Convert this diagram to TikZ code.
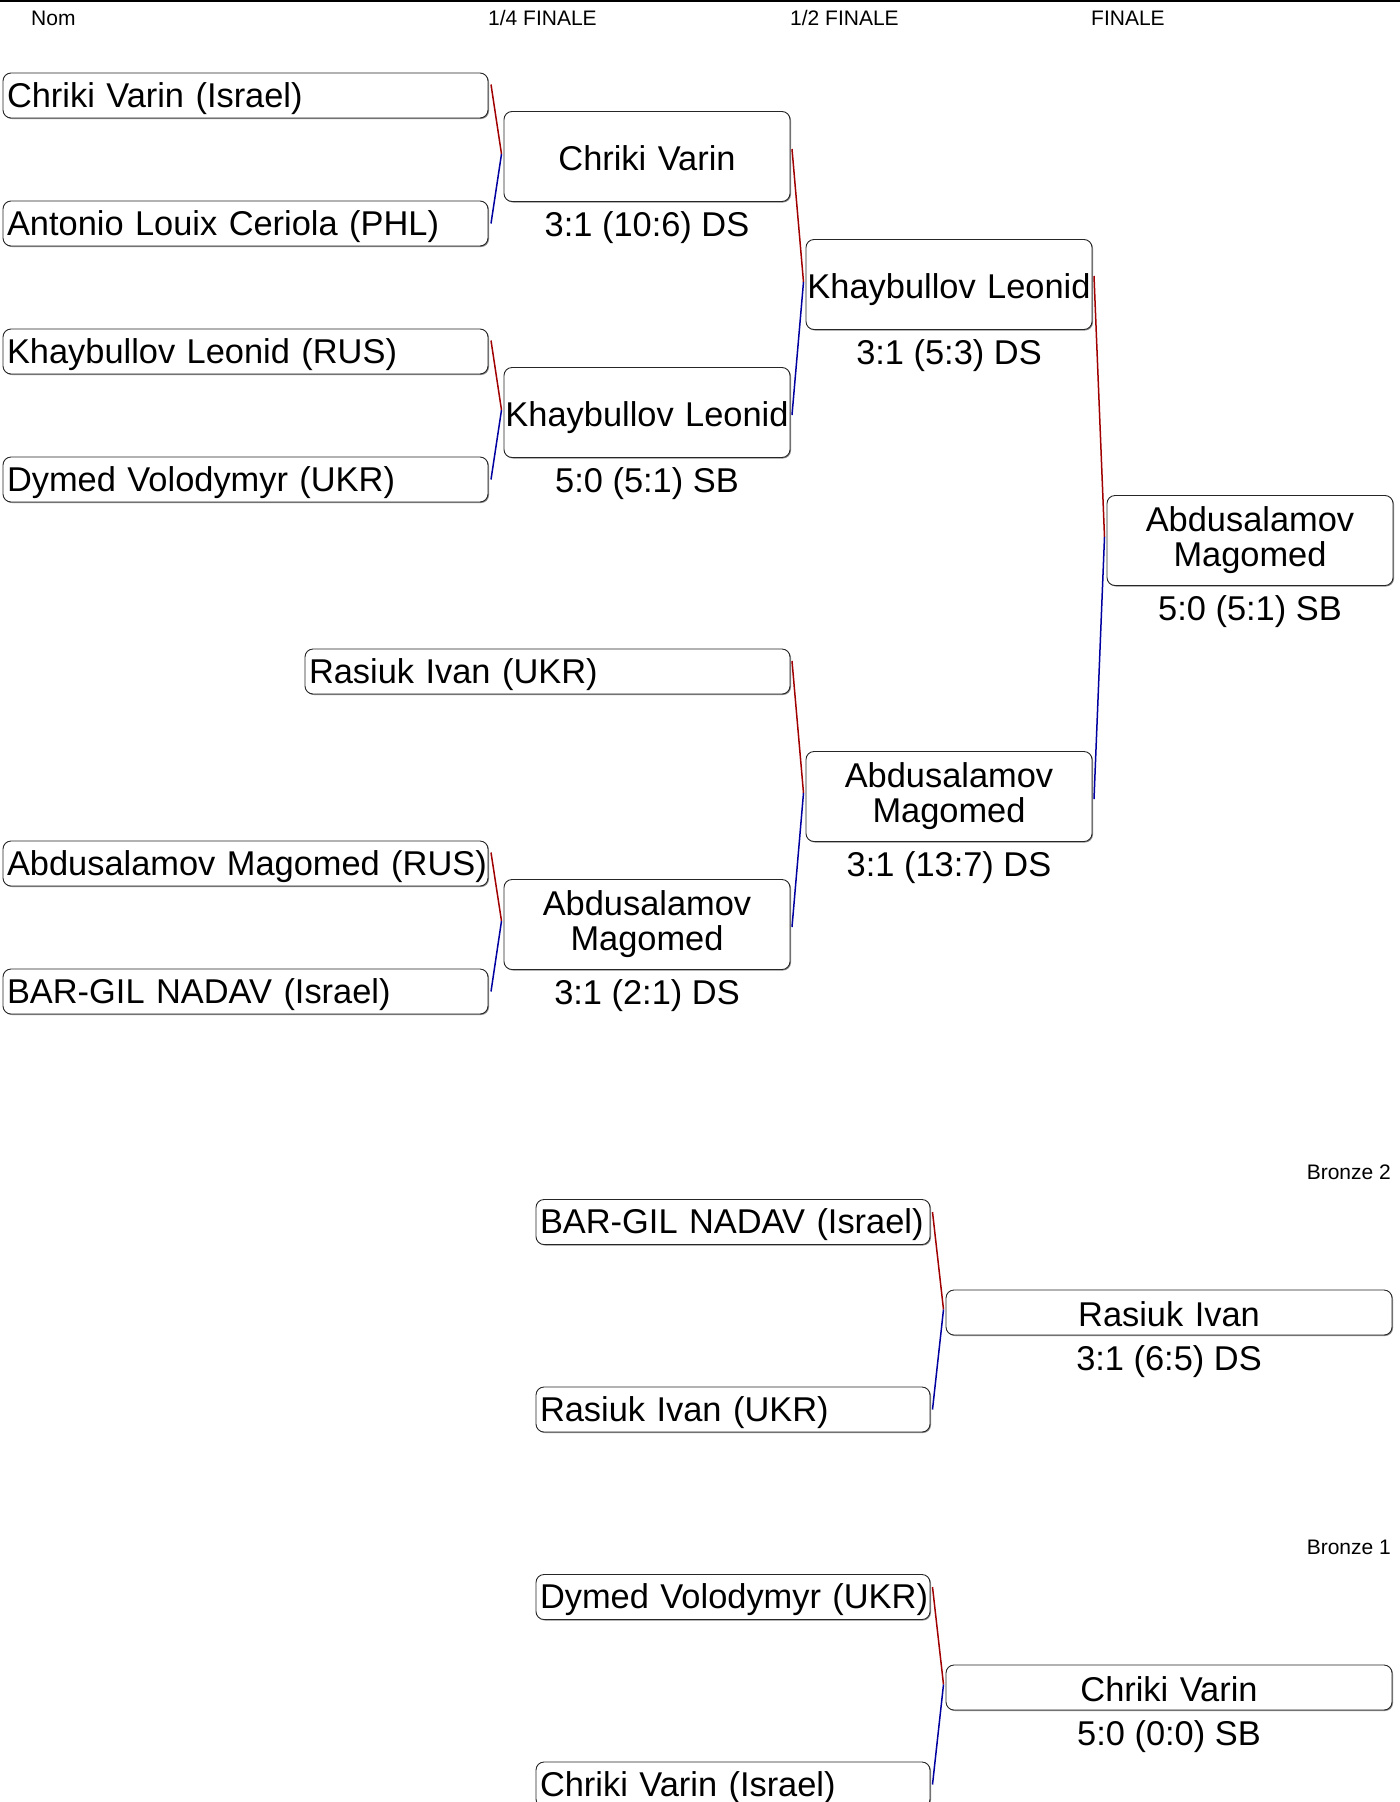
\documentclass[tikz,border=0pt]{standalone}
\usepackage{fontspec}
\setmainfont{Liberation Sans}
\usetikzlibrary{calc,shadows}
\definecolor{redline}{RGB}{160,0,0}
\definecolor{blueline}{RGB}{0,0,160}
\newcommand\bigfnt{\fontsize{34.4}{35}\selectfont}
\newcommand\smallfnt{\fontsize{21}{24}\selectfont}
\begin{document}
\begin{tikzpicture}[x=1pt,y=-1pt,
  pbox/.style={draw=black!85, line width=0.9pt, rounded corners=8pt, fill=white,
    inner xsep=4pt, inner ysep=0pt, outer sep=0pt, font=\bigfnt,
    drop shadow={shadow xshift=1pt, shadow yshift=-1pt, fill=black!45, opacity=1}},
  one/.style={text height=30pt, text depth=2.4pt},
  entry/.style={pbox, text height=25.5pt, text depth=2.4pt, anchor=north west,
    minimum width=485pt, minimum height=45pt, text width=477pt, align=left},
  win/.style={pbox, anchor=north west, minimum width=286pt, minimum height=90pt,
    inner xsep=0pt, text width=286pt, align=center},
  res/.style={anchor=base, font=\bigfnt, inner sep=0pt},
  hdr/.style={anchor=base west, font=\smallfnt, inner sep=0pt},
  redc/.style={draw=redline, line width=1.5pt},
  bluec/.style={draw=blueline, line width=1.5pt}]
\useasboundingbox (0,0) rectangle (1400,1802);
\clip (0,0) rectangle (1400,1802);

% header
\draw[line width=2.5pt] (0,1) -- (1400,1);
\node[hdr] (hnom) at (31,25) {Nom};
\node[hdr] (hqf) at (488,25) {1/4 FINALE};
\node[hdr] (hsf) at (790,25) {1/2 FINALE};
\node[hdr] (hf) at (1091,25) {FINALE};

% first round
\node[entry] (r1a) at (3,73) {\mbox{Chriki Varin (Israel)}};
\node[entry] (r1b) at (3,201) {\mbox{Antonio Louix Ceriola (PHL)}};
\node[entry] (r1c) at (3,329) {\mbox{Khaybullov Leonid (RUS)}};
\node[entry] (r1d) at (3,457) {\mbox{Dymed Volodymyr (UKR)}};
\node[entry] (r1e) at (305,649) {\mbox{Rasiuk Ivan (UKR)}};
\node[entry] (r1f) at (3,841) {\mbox{Abdusalamov Magomed (RUS)}};
\node[entry] (r1g) at (3,969) {\mbox{BAR-GIL NADAV (Israel)}};

% quarter finals
\node[win, one] (q1) at (504,111.5) {\mbox{Chriki Varin}};
\node[res] (q1r) at ($(q1.south)+(0,35)$) {3:1 (10:6) DS};
\node[win, one] (q2) at (504,367.5) {\mbox{Khaybullov Leonid}};
\node[res] (q2r) at ($(q2.south)+(0,35)$) {5:0 (5:1) SB};
\node[win] (q3) at (504,879.5) {Abdusalamov\\Magomed};
\node[res] (q3r) at ($(q3.south)+(0,35)$) {3:1 (2:1) DS};

% semi finals
\node[win, one] (s1) at (806,239.5) {\mbox{Khaybullov Leonid}};
\node[res] (s1r) at ($(s1.south)+(0,35)$) {3:1 (5:3) DS};
\node[win] (s2) at (806,751.5) {Abdusalamov\\Magomed};
\node[res] (s2r) at ($(s2.south)+(0,35)$) {3:1 (13:7) DS};

% final
\node[win] (fin) at (1107,495.5) {Abdusalamov\\Magomed};
\node[res] (finr) at ($(fin.south)+(0,35)$) {5:0 (5:1) SB};

% connectors main bracket
\coordinate (m1) at ($(q1.west)+(-2.5,-2.5)$);
\draw[redc] ($(r1a.north east)+(3,11.5)$) -- (m1);
\draw[bluec] (m1) -- ($(r1b.east)+(3,0)$);
\coordinate (m2) at ($(q2.west)+(-2.5,-2.5)$);
\draw[redc] ($(r1c.north east)+(3,11.5)$) -- (m2);
\draw[bluec] (m2) -- ($(r1d.east)+(3,0)$);
\coordinate (m3) at ($(q3.west)+(-2.5,-3.5)$);
\draw[redc] ($(r1f.north east)+(3,11.5)$) -- (m3);
\draw[bluec] (m3) -- ($(r1g.east)+(3,0)$);
\coordinate (m4) at ($(s1.west)+(-2.5,-2.5)$);
\draw[redc] ($(q1.north east)+(2,37.5)$) -- (m4);
\draw[bluec] (m4) -- ($(q2.east)+(2,2.5)$);
\coordinate (m5) at ($(s2.west)+(-2.5,-3.5)$);
\draw[redc] ($(r1e.north east)+(2,12)$) -- (m5);
\draw[bluec] (m5) -- ($(q3.east)+(2,2.5)$);
\coordinate (m6) at ($(fin.west)+(-2.5,-3.5)$);
\draw[redc] ($(s1.north east)+(2,36.5)$) -- (m6);
\draw[bluec] (m6) -- ($(s2.east)+(2,2.5)$);

% bronze 2
\node[hdr, anchor=base east] (br2) at (1391,1179.5) {Bronze 2};
\node[entry, minimum width=394pt, text width=386pt] (b2a) at (536,1199.5) {\mbox{BAR-GIL NADAV (Israel)}};
\node[entry, minimum width=394pt, text width=386pt] (b2b) at (536,1387) {\mbox{Rasiuk Ivan (UKR)}};
\node[win, one, minimum width=446pt, text width=446pt, minimum height=45pt] (b2w) at (946,1290) {Rasiuk Ivan};
\node[res] (b2r) at ($(b2w.south)+(0,35)$) {3:1 (6:5) DS};
\coordinate (m7) at ($(b2w.west)+(-2.5,-3)$);
\draw[redc] ($(b2a.north east)+(2.5,12.5)$) -- (m7);
\draw[bluec] (m7) -- ($(b2b.east)+(2.5,0)$);

% bronze 1
\node[hdr, anchor=base east] (br1) at (1391,1554.5) {Bronze 1};
\node[entry, minimum width=394pt, text width=386pt] (b1a) at (536,1574.5) {\mbox{Dymed Volodymyr (UKR)}};
\node[entry, minimum width=394pt, text width=386pt] (b1b) at (536,1762) {\mbox{Chriki Varin (Israel)}};
\node[win, one, minimum width=446pt, text width=446pt, minimum height=45pt] (b1w) at (946,1665) {Chriki Varin};
\node[res] (b1r) at ($(b1w.south)+(0,35)$) {5:0 (0:0) SB};
\coordinate (m8) at ($(b1w.west)+(-2.5,-3)$);
\draw[redc] ($(b1a.north east)+(2.5,12.5)$) -- (m8);
\draw[bluec] (m8) -- ($(b1b.east)+(2.5,0)$);
\end{tikzpicture}
\end{document}
